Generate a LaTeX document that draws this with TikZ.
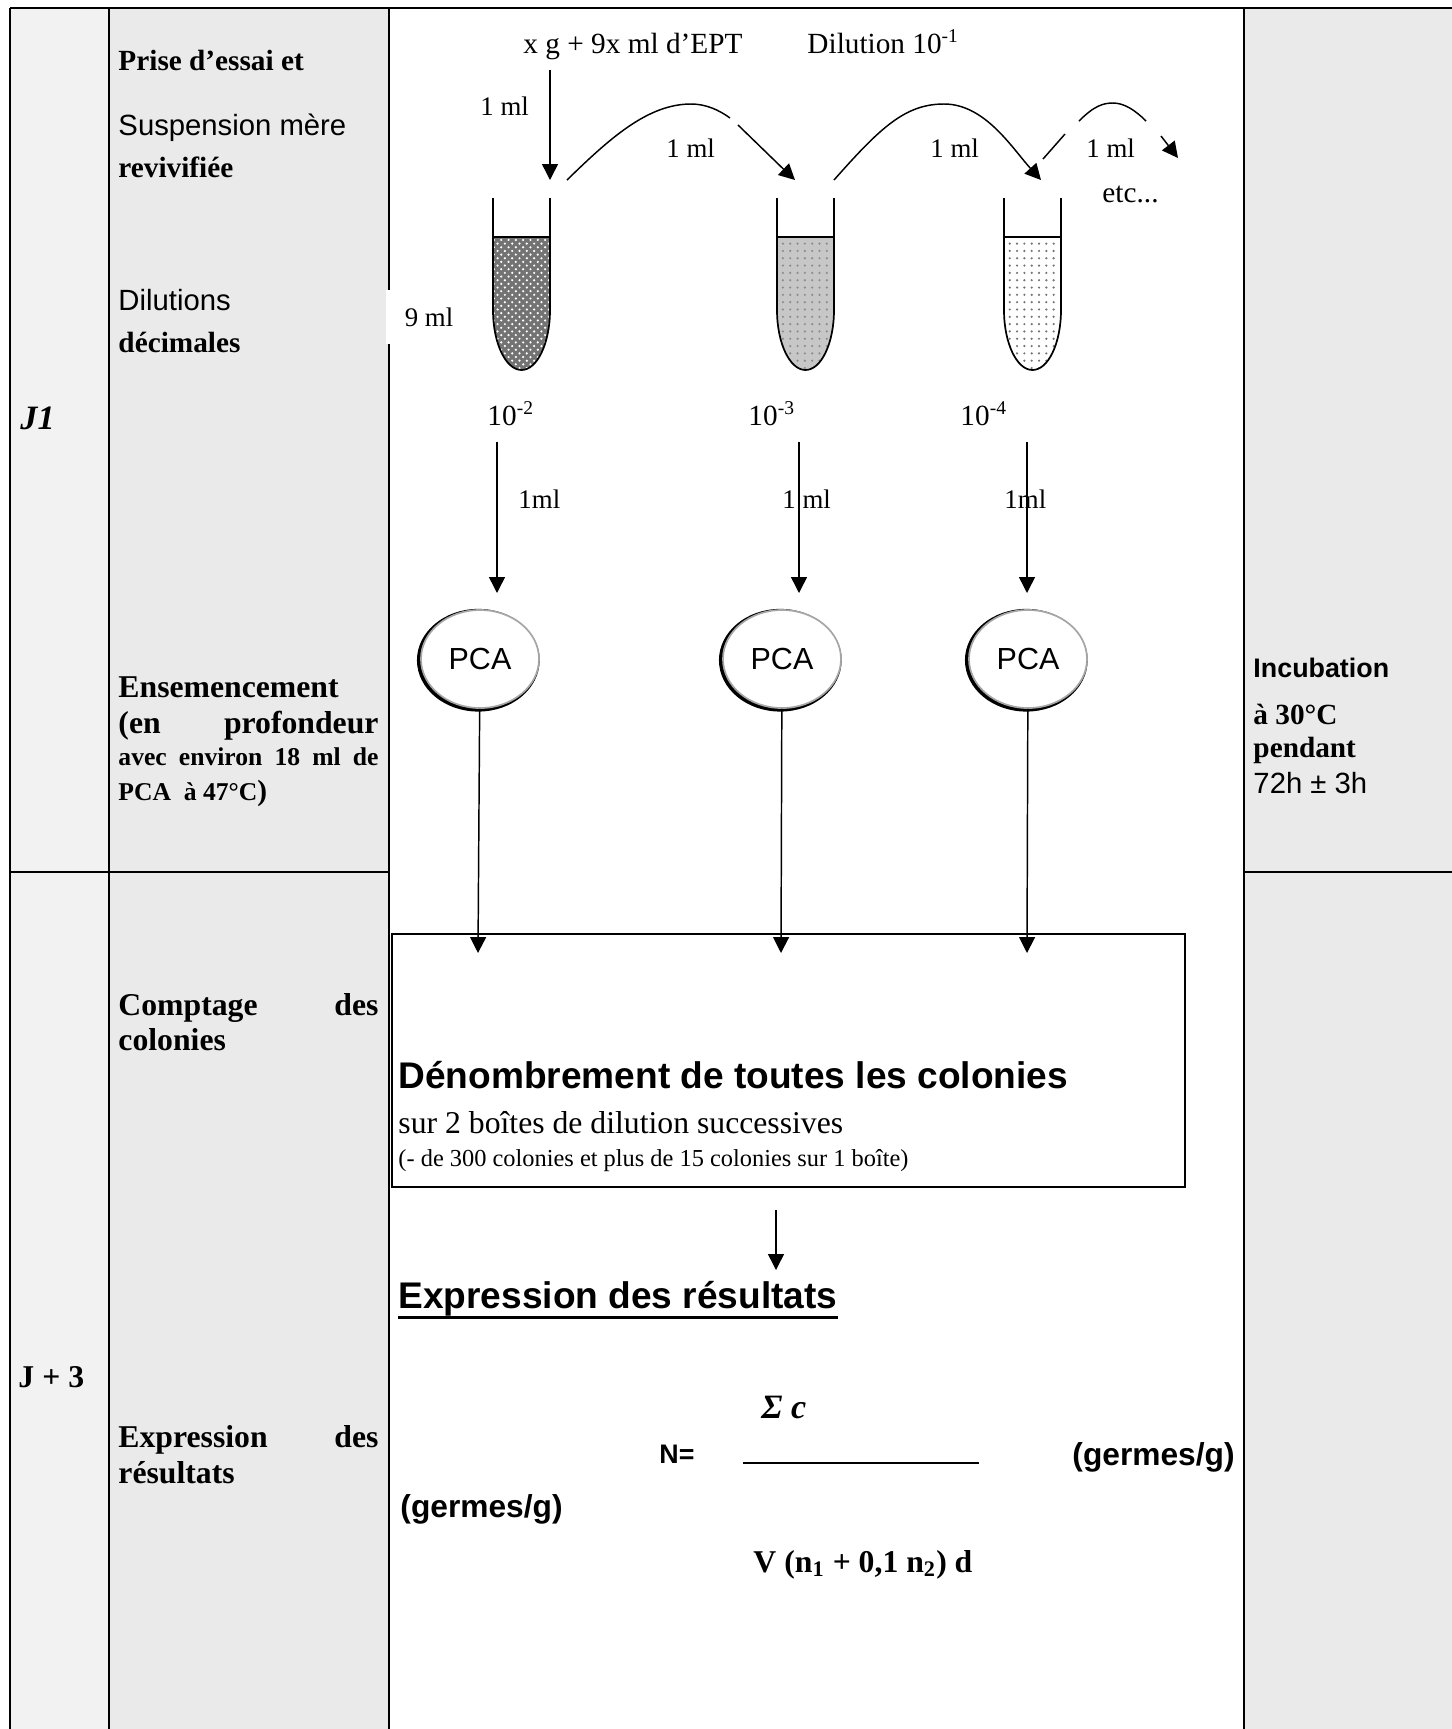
\documentclass[tikz,border=0pt]{standalone}
\usepackage{fontspec}
\setmainfont{Liberation Serif}
\setsansfont{Liberation Sans}
\usetikzlibrary{arrows.meta}
\usetikzlibrary{patterns}
\usetikzlibrary{shapes.geometric}

\definecolor{cellgray}{HTML}{EAEAEA}
\definecolor{daygray}{HTML}{F2F2F2}

\newcommand{\fsz}[1]{\fontsize{#1}{#1}\selectfont}
\newcommand{\spread}[1]{\makebox[106.6pt][s]{#1}}

\begin{document}
\begin{tikzpicture}[x=0.41pt, y=-0.41pt,
    txt/.style={anchor=base west, inner sep=0pt},
    grid/.style={line width=1.2pt},
    arr/.style={-{Triangle[length=6.5pt,width=6.5pt]}, line width=0.6pt},
    tubewall/.style={line width=0.7pt},
    liquid/.style={insert path={(#1,237) -- (#1,310) arc[start angle=180, end angle=0, x radius=28.5, y radius=60] -- ++(0,-73) -- cycle}},
    dish/.style={ellipse, draw=gray!70, line width=0.7pt, fill=white,
        minimum width=48.4pt, minimum height=40.2pt, inner sep=0pt,
        font=\sffamily\fsz{12.5},
        preaction={draw=black, line width=1.9pt, transform canvas={xshift=-0.7pt, yshift=-0.5pt}}}]
    \useasboundingbox (0,0) rectangle (1452,1729);

    % table cells
    \fill [daygray] (10,8) rectangle (109,1729);
    \fill [cellgray] (109,8) rectangle (389,1729);
    \fill [cellgray] (1244,8) rectangle (1452,1729);
    \foreach \x in {10,109,389,1244}
        \draw [grid] (\x,8) -- (\x,1729);
    \draw [grid] (10,8) -- (1452,8);
    \draw [grid] (10,872) -- (389,872);
    \draw [grid] (1244,872) -- (1452,872);

    % J1 steps
    \node [txt, font=\bfseries\itshape\fsz{14}] (jone) at (20,429) {J1};
    \node [txt, font=\bfseries\fsz{12}] (prise) at (118,70) {Prise d’essai et};
    \node [txt, font=\sffamily\fsz{12}] (susp) at (118,135) {Suspension mère};
    \node [txt, font=\bfseries\fsz{12}] (reviv) at (118,177) {revivifiée};
    \node [txt, font=\sffamily\fsz{12}] (dilu) at (118,310) {Dilutions};
    \node [txt, font=\bfseries\fsz{12}] (decim) at (118,352) {décimales};
    \node [txt, font=\bfseries\fsz{13}] (ensem) at (118,697) {Ensemencement};
    \node [txt, font=\bfseries\fsz{13}] (ensemb) at (118,733) {\spread{(en profondeur}};
    \node [txt, font=\bfseries\fsz{10.5}] (ensemc) at (118,765) {\spread{avec environ 18 ml de}};
    \node [txt, font=\bfseries\fsz{10.5}] (ensemd) at (118,800) {PCA\ \ à 47°C{\fsz{12})}};

    % J+3 steps
    \node [txt, font=\bfseries\fsz{13}] (jthree) at (18,1387) {J + 3};
    \node [txt, font=\bfseries\fsz{13}] (compt) at (118,1015) {\spread{Comptage des}};
    \node [txt, font=\bfseries\fsz{13}] (comptb) at (118,1050) {colonies};
    \node [txt, font=\bfseries\fsz{13}] (expr) at (118,1447) {\spread{Expression des}};
    \node [txt, font=\bfseries\fsz{13}] (exprb) at (118,1483) {résultats};

    % incubation
    \node [txt, font=\sffamily\bfseries\fsz{11}] (incub) at (1253,677) {Incubation};
    \node [txt, font=\bfseries\fsz{12}] (temp) at (1253,724) {à 30°C};
    \node [txt, font=\bfseries\fsz{12}] (pend) at (1253,757) {pendant};
    \node [txt, font=\sffamily\fsz{12}] (duree) at (1253,793) {72h ± 3h};

    % suspension mere
    \node [txt, font=\fsz{12}] (prep) at (523,53) {x g + 9x ml d’EPT};
    \node [txt, font=\fsz{12}] (dilm) at (807,53) {Dilution 10\textsuperscript{-1}};
    \node [txt, font=\fsz{11}] (vol) at (480,115) {1 ml};
    \coordinate (in0) at (550,70);
    \coordinate (in0e) at (550,180);
    \draw [arr] (in0) -- (in0e);

    % tubes
    \fill [black!55, liquid=493];
    \fill [pattern=crosshatch dots, pattern color=white, liquid=493];
    \fill [black!22, liquid=777];
    \fill [pattern=dots, pattern color=black!45, liquid=777];
    \fill [pattern=dots, pattern color=black!55, liquid=1004];
    \foreach \x in {493,777,1004} {
        \draw [tubewall] (\x,198) -- (\x,310) arc[start angle=180, end angle=0, x radius=28.5, y radius=60] -- (\x+57,198);
        \draw [tubewall] (\x,237) -- (\x+57,237);
    }
    \node [fill=white, minimum width=35pt, minimum height=22pt, inner sep=0pt, font=\fsz{11}] (nine) at (429,317) {9 ml};

    % transfers 1 ml
    \coordinate (a1s) at (567,180);
    \coordinate (a1m) at (730,118);
    \coordinate (a1n) at (738,125);
    \coordinate (a1e) at (795,180);
    \draw [line width=0.6pt] (a1s) .. controls (610,138) and (648,104) .. (691,104) .. controls (706,104) and (719,110) .. (a1m);
    \draw [arr] (a1n) .. controls (760,147) .. (a1e);
    \node [txt, font=\fsz{11}] (vol1) at (666,157) {1 ml};

    \coordinate (a2s) at (834,180);
    \coordinate (a2e) at (1041,180);
    \draw [arr] (a2s) .. controls (880,128) and (905,104) .. (944,104) .. controls (985,104) and (1012,148) .. (a2e);
    \node [txt, font=\fsz{11}] (vol2) at (930,157) {1 ml};

    \coordinate (a3s) at (1043,159);
    \coordinate (a3m) at (1065,134);
    \coordinate (a3n) at (1079,121);
    \coordinate (a3o) at (1146,121);
    \coordinate (a3p) at (1161,136);
    \coordinate (a3e) at (1178,158);
    \draw [line width=0.6pt] (a3s) -- (a3m);
    \draw [line width=0.6pt] (a3n) .. controls (1094,106) and (1103,103) .. (1113,103) .. controls (1124,103) and (1135,110) .. (a3o);
    \draw [arr] (a3p) -- (a3e);
    \node [txt, font=\fsz{11}] (vol3) at (1086,157) {1 ml};
    \node [txt, font=\fsz{12}] (etc) at (1102,202) {etc...};

    % dilutions
    \node [txt, font=\fsz{12}] (dil1) at (487,425) {10\textsuperscript{-2}};
    \node [txt, font=\fsz{12}] (dil2) at (748,425) {10\textsuperscript{-3}};
    \node [txt, font=\fsz{12}] (dil3) at (960,425) {10\textsuperscript{-4}};
    \node [txt, font=\fsz{11}] (ml1) at (518,508) {1ml};
    \node [txt, font=\fsz{11}] (ml2) at (782,508) {1 ml};
    \node [txt, font=\fsz{11}] (ml3) at (1004,508) {1ml};

    % ensemencement
    \foreach \i/\x in {1/497, 2/799, 3/1027} {
        \coordinate (s\i) at (\x,442);
        \coordinate (e\i) at (\x,593);
        \draw [arr] (s\i) -- (e\i);
    }
    \foreach \i/\x in {1/480, 2/782, 3/1028}
        \node [dish] (pca\i) at (\x,659) {PCA};

    % comptage
    \node [draw, line width=0.8pt, anchor=north west, minimum width=325.1pt, minimum height=103.7pt, inner sep=0pt] (cnt) at (391,933) {};
    \foreach \i/\x in {1/478, 2/781, 3/1027} {
        \coordinate (d\i) at (\x,953);
        \draw [arr] (pca\i) -- (d\i);
    }
    \node [txt, font=\sffamily\bfseries\fsz{15.2}] (denom) at (398,1088) {Dénombrement de toutes les colonies};
    \node [txt, font=\fsz{13}] (denomb) at (398,1133) {sur 2 boîtes de dilution successives};
    \node [txt, font=\fsz{10}] (denomc) at (398,1166) {(- de 300 colonies et plus de 15 colonies sur 1 boîte)};

    % expression des resultats
    \coordinate (r0) at (776,1210);
    \coordinate (r1) at (776,1270);
    \draw [arr] (r0) -- (r1);
    \node [txt, font=\sffamily\bfseries\fsz{15.2}] (resul) at (398,1308) {Expression des résultats};
    \draw [line width=1.2pt] ([yshift=-4pt]resul.base west) -- ([yshift=-4pt]resul.base east);
    \node [txt, font=\bfseries\itshape\fsz{14}] (sumc) at (761,1418) {Σ c};
    \node [txt, font=\sffamily\bfseries\fsz{11}] (neq) at (659,1463) {N=};
    \draw [line width=1pt] (743,1463) -- (979,1463);
    \node [txt, font=\sffamily\bfseries\fsz{13}] (unit) at (1072,1465) {(germes/g)};
    \node [txt, font=\sffamily\bfseries\fsz{13}] (unitb) at (400,1517) {(germes/g)};
    \node [txt, font=\bfseries\fsz{13}] (denf) at (753,1572) {V (n\textsubscript{1} + 0,1 n\textsubscript{2}) d};
\end{tikzpicture}
\end{document}
